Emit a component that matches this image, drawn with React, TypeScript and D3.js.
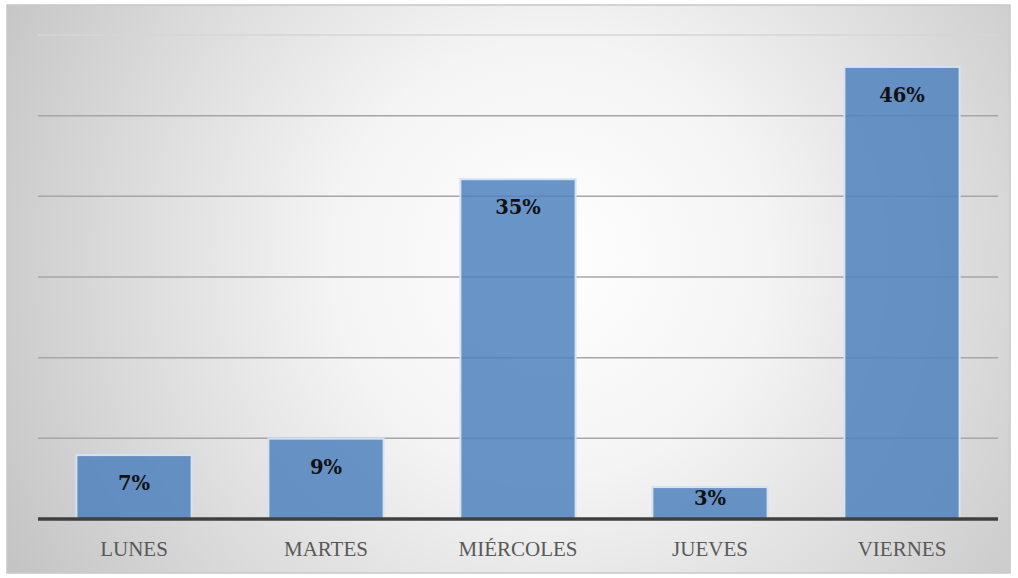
import { useEffect, useRef } from 'react';
import * as d3 from 'd3';

const days = ['LUNES', 'MARTES', 'MIÉRCOLES', 'JUEVES', 'VIERNES'];
const shares = [6.6, 8.3, 35.1, 3.3, 46.7];
const shareLabels = ['7%', '9%', '35%', '3%', '46%'];
const gridTicks = [0, 1, 2, 3, 4, 5, 6].map(i => (i * 50) / 6);

export default function App() {
  const ref = useRef<SVGSVGElement>(null);

  useEffect(() => {
    if (!ref.current) return;
    const svg = d3.select(ref.current);
    svg.selectAll('*').remove();

    const W = 1018;
    const H = 578;
    const plot = { left: 38, right: 998, top: 35, bottom: 519 };

    const defs = svg.append('defs');
    const grad = defs.append('radialGradient')
      .attr('id', 'bg')
      .attr('gradientUnits', 'userSpaceOnUse')
      .attr('cx', 550).attr('cy', 260).attr('r', 620);
    grad.append('stop').attr('offset', '0%').attr('stop-color', '#ffffff');
    grad.append('stop').attr('offset', '35%').attr('stop-color', '#f4f4f4');
    grad.append('stop').attr('offset', '100%').attr('stop-color', '#c4c4c4');

    svg.append('rect').attr('width', W).attr('height', H).attr('fill', '#ffffff');
    svg.append('rect')
      .attr('x', 7).attr('y', 5).attr('width', 1003).attr('height', 568)
      .attr('fill', 'url(#bg)')
      .attr('stroke', '#c8c8c8').attr('stroke-width', 1.5);

    const x = d3.scaleBand<string>()
      .domain(days)
      .range([plot.left, plot.right])
      .paddingInner(0.4)
      .paddingOuter(0.2);

    const y = d3.scaleLinear()
      .domain([0, 50])
      .range([plot.bottom, plot.top]);

    // grid
    svg.append('g')
      .selectAll('line')
      .data(gridTicks.slice(1))
      .enter()
      .append('line')
      .attr('x1', plot.left)
      .attr('x2', plot.right)
      .attr('y1', d => y(d))
      .attr('y2', d => y(d))
      .attr('stroke', (d, i) => (i === gridTicks.length - 2 ? '#d6d6d6' : '#a6a6a6'))
      .attr('stroke-width', 1.5);

    // bars
    svg.append('g')
      .selectAll('rect')
      .data(days)
      .enter()
      .append('rect')
      .attr('x', d => x(d) || 0)
      .attr('y', (d, i) => y(shares[i]))
      .attr('width', x.bandwidth())
      .attr('height', (d, i) => plot.bottom - y(shares[i]))
      .attr('fill', '#4f81bd')
      .attr('fill-opacity', 0.85)
      .attr('stroke', '#d4e2f2')
      .attr('stroke-width', 2);

    // baseline
    svg.append('line')
      .attr('x1', plot.left).attr('x2', plot.right)
      .attr('y1', y(0)).attr('y2', y(0))
      .attr('stroke', '#3f3f3f').attr('stroke-width', 3.5);

    // value labels
    svg.append('g')
      .selectAll('text')
      .data(days)
      .enter()
      .append('text')
      .text((d, i) => shareLabels[i])
      .attr('x', d => (x(d) || 0) + x.bandwidth() / 2)
      .attr('y', (d, i) => Math.min(y(shares[i]) + 35, plot.bottom - 14))
      .attr('text-anchor', 'middle')
      .attr('font-family', '"DejaVu Serif", serif')
      .attr('font-weight', 'bold')
      .attr('font-size', '19.5px')
      .attr('fill', '#111111');

    // category labels
    svg.append('g')
      .selectAll('text')
      .data(days)
      .enter()
      .append('text')
      .text(d => d)
      .attr('x', d => (x(d) || 0) + x.bandwidth() / 2)
      .attr('y', 556)
      .attr('text-anchor', 'middle')
      .attr('font-family', '"Liberation Serif", serif')
      .attr('font-size', '21px')
      .attr('fill', '#595959');
  }, []);

  return (
    <svg
      ref={ref}
      width={1018}
      height={578}
      style={{ position: 'absolute', left: 0, top: 0, display: 'block' }}
    />
  );
}
